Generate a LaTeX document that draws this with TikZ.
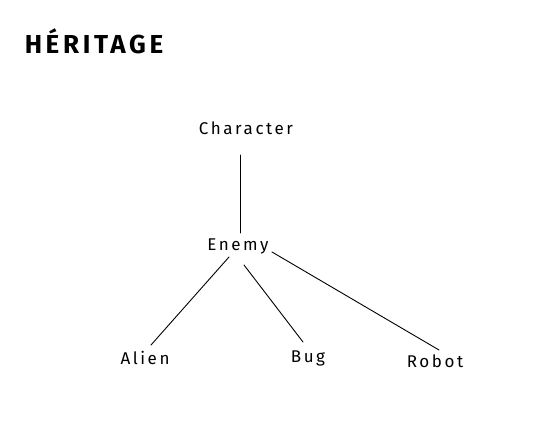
\documentclass[tikz,border=0pt]{standalone}
\usepackage{fontspec}
\setmainfont{Fira Sans}
\usetikzlibrary{calc}
\begin{document}
\begin{tikzpicture}[x=1pt,y=-1pt,
  lbl/.style={inner sep=0pt, font=\fontsize{17}{20}\selectfont\addfontfeatures{LetterSpace=15}},
  ttl/.style={inner sep=0pt, font=\fontsize{26}{30}\selectfont\bfseries\addfontfeatures{LetterSpace=14}},
  edge/.style={draw=black, line width=0.9pt, line cap=round}]
\fill[white] (0,0) rectangle (540,425);
\useasboundingbox (0,0) rectangle (540,425);
\node[ttl] (title) at (94,41) {HÉRITAGE};
\node[lbl] (char) at (246,128) {Character};
\node[lbl] (enemy) at (238,246) {Enemy};
\node[lbl] (alien) at (145,358) {Alien};
\node[lbl] (bug) at (308,358) {Bug};
\node[lbl] (robot) at (435,361) {Robot};
\draw[edge] ($(char)+(-6,27)$) -- ($(enemy)+(2,-13)$);
\draw[edge] ($(enemy)+(-9,11)$) -- ($(alien)+(6,-13)$);
\draw[edge] ($(enemy)+(6,19)$) -- ($(bug)+(-5,-16)$);
\draw[edge] ($(enemy)+(34,6)$) -- ($(robot)+(4,-11)$);
\end{tikzpicture}
\end{document}
